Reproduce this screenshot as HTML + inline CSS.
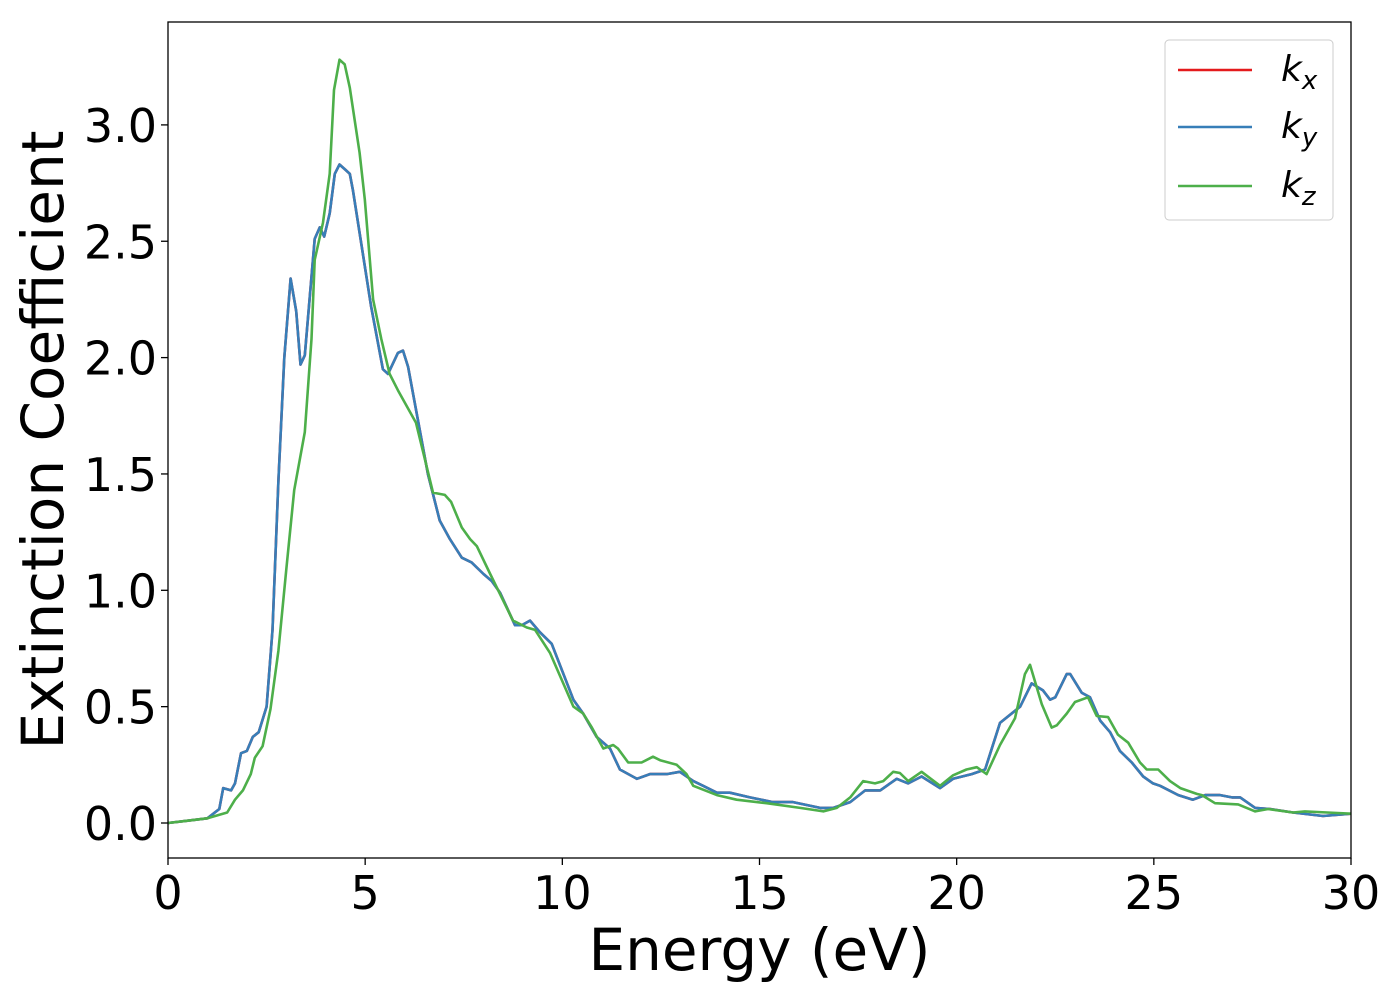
<!DOCTYPE html>
<html><head><meta charset="utf-8"><style>
body{margin:0;background:#fff;}
svg text{font-family:"DejaVu Sans","Liberation Sans",sans-serif;}
</style></head><body>
<svg id="chart" width="1400" height="1000" xmlns="http://www.w3.org/2000/svg">
<rect x="0" y="0" width="1400" height="1000" fill="#fff"/>
<g id="plot"></g>
</svg>
<script>
const xTicks=[0,5,10,15,20,25,30];
const yTicks=[0.0,0.5,1.0,1.5,2.0,2.5,3.0];
const yTickLabels=["0.0","0.5","1.0","1.5","2.0","2.5","3.0"];
const kxyE=[0,0.5,1.0,1.3,1.4,1.6,1.7,1.85,2.0,2.15,2.3,2.5,2.65,2.8,2.95,3.11,3.25,3.36,3.47,3.72,3.85,3.96,4.10,4.23,4.35,4.48,4.61,4.69,5.15,5.45,5.58,5.83,5.96,6.09,6.59,6.89,7.15,7.45,7.70,8.0,8.21,8.42,8.80,8.97,9.18,9.43,9.73,10.28,10.53,10.87,11.21,11.46,11.89,12.22,12.65,12.98,13.32,13.57,13.92,14.25,14.76,15.34,15.85,16.54,16.87,17.30,17.68,18.06,18.48,18.77,19.11,19.58,19.91,20.38,20.72,21.10,21.61,21.90,22.19,22.37,22.50,22.79,22.88,23.17,23.38,23.64,23.89,24.14,24.44,24.73,24.98,25.16,25.62,25.99,26.30,26.68,26.98,27.19,27.57,27.95,28.53,29.29,30];
const kyK=[0,0.01,0.02,0.06,0.15,0.14,0.17,0.30,0.31,0.37,0.39,0.5,0.83,1.47,2.0,2.34,2.2,1.97,2.01,2.51,2.56,2.52,2.62,2.79,2.83,2.81,2.79,2.72,2.22,1.95,1.93,2.02,2.03,1.96,1.50,1.30,1.22,1.14,1.12,1.07,1.04,0.99,0.85,0.85,0.87,0.82,0.77,0.53,0.47,0.37,0.32,0.23,0.19,0.21,0.21,0.22,0.18,0.16,0.13,0.13,0.11,0.09,0.09,0.065,0.065,0.09,0.14,0.14,0.19,0.17,0.20,0.15,0.19,0.21,0.23,0.43,0.50,0.60,0.57,0.53,0.54,0.64,0.64,0.56,0.54,0.44,0.39,0.31,0.26,0.20,0.17,0.16,0.12,0.10,0.12,0.12,0.11,0.11,0.065,0.06,0.045,0.03,0.04];
const kxK=kyK.slice();
const kzE=[0,0.5,1.0,1.5,1.7,1.9,2.1,2.2,2.4,2.6,2.8,3.0,3.2,3.47,3.64,3.72,3.93,4.10,4.21,4.35,4.48,4.61,4.86,4.99,5.20,5.41,5.62,5.83,6.29,6.72,7.02,7.18,7.45,7.66,7.83,8.17,8.75,9.10,9.31,9.69,10.28,10.53,10.75,11.04,11.29,11.41,11.67,12.01,12.30,12.48,12.90,13.15,13.32,13.92,14.42,15.18,16.03,16.62,16.96,17.30,17.63,17.93,18.14,18.39,18.56,18.77,19.11,19.58,19.91,20.25,20.51,20.76,21.10,21.48,21.73,21.86,22.16,22.41,22.54,22.79,23.0,23.33,23.55,23.84,24.09,24.35,24.65,24.82,25.11,25.41,25.67,26.09,26.22,26.55,27.14,27.57,27.9,28.53,28.83,29.4,30];
const kzK=[0,0.01,0.02,0.045,0.10,0.14,0.21,0.28,0.33,0.49,0.74,1.09,1.43,1.68,2.08,2.42,2.58,2.79,3.15,3.28,3.26,3.16,2.88,2.68,2.25,2.08,1.93,1.86,1.72,1.42,1.41,1.38,1.27,1.22,1.19,1.07,0.87,0.84,0.83,0.73,0.50,0.47,0.41,0.32,0.335,0.32,0.26,0.26,0.285,0.27,0.25,0.21,0.16,0.12,0.10,0.085,0.065,0.05,0.065,0.11,0.18,0.17,0.18,0.22,0.215,0.18,0.22,0.16,0.205,0.23,0.24,0.21,0.335,0.45,0.64,0.68,0.51,0.41,0.42,0.47,0.52,0.54,0.46,0.455,0.38,0.345,0.26,0.23,0.23,0.18,0.15,0.125,0.12,0.085,0.08,0.05,0.06,0.045,0.05,0.045,0.04];

const L=168,R=1351,T=22,B=858;
const X=v=>L+(v-0)/30*(R-L);
const Y=v=>823-v*232.7;
const NS="http://www.w3.org/2000/svg";
const g=document.getElementById('plot');
function mk(tag,attrs){const e=document.createElementNS(NS,tag);for(const k in attrs)e.setAttribute(k,attrs[k]);g.appendChild(e);return e;}

function series(E,K,color,name){
  const d=E.map((e,i)=>(i?'L':'M')+X(e).toFixed(1)+','+Y(K[i]).toFixed(1)).join('');
  const p=mk('path',{d:d,fill:'none',stroke:color,'stroke-width':2.6,'stroke-linejoin':'round'});
  
  
}
series(kxyE,kxK,'#e41a1c','kx-line');
series(kxyE,kyK,'#377eb8','ky-line');
series(kzE,kzK,'#4daf4a','kz-line');

const frame=mk('rect',{x:L,y:T,width:R-L,height:B-T,fill:'none',stroke:'#000','stroke-width':1.3});



xTicks.forEach(v=>{
  mk('line',{x1:X(v),x2:X(v),y1:B,y2:B+7,stroke:'#000','stroke-width':1.3});
  const t=mk('text',{x:X(v),y:B+51,'font-size':46,'text-anchor':'middle',fill:'#000'});
  t.textContent=v;
  
  
});
yTicks.forEach((v,i)=>{
  mk('line',{x1:L-7,x2:L,y1:Y(v),y2:Y(v),stroke:'#000','stroke-width':1.3});
  const t=mk('text',{x:L-11,y:Y(v)+17,'font-size':46,'text-anchor':'end',fill:'#000'});
  t.textContent=yTickLabels[i];
  
  
});
const xt=mk('text',{x:(L+R)/2,y:970,'font-size':58,'text-anchor':'middle',fill:'#000'});
xt.textContent='Energy (eV)';


const yt=mk('text',{x:0,y:0,'font-size':58,'text-anchor':'middle',fill:'#000',transform:'translate(63,440) rotate(-90)'});
yt.textContent='Extinction Coefficient';



const lb=mk('rect',{x:1165,y:40,width:168,height:180,rx:4,fill:'#fff','fill-opacity':0.8,stroke:'#ccc','stroke-width':1});


[['#e41a1c','x',70],['#377eb8','y',127],['#4daf4a','z',186]].forEach(([c,s,y])=>{
  const ln=mk('line',{x1:1178,x2:1252,y1:y,y2:y,stroke:c,'stroke-width':2.6});
  
  
  const t=mk('text',{x:1281,y:y+11,'font-size':36,fill:'#000','font-style':'italic'});
  
  
  const a=document.createElementNS(NS,'tspan');a.textContent='k';t.appendChild(a);
  const b=document.createElementNS(NS,'tspan');b.setAttribute('dy','8');b.setAttribute('font-size','26');b.textContent=s;t.appendChild(b);
});
</script>
</body></html>
